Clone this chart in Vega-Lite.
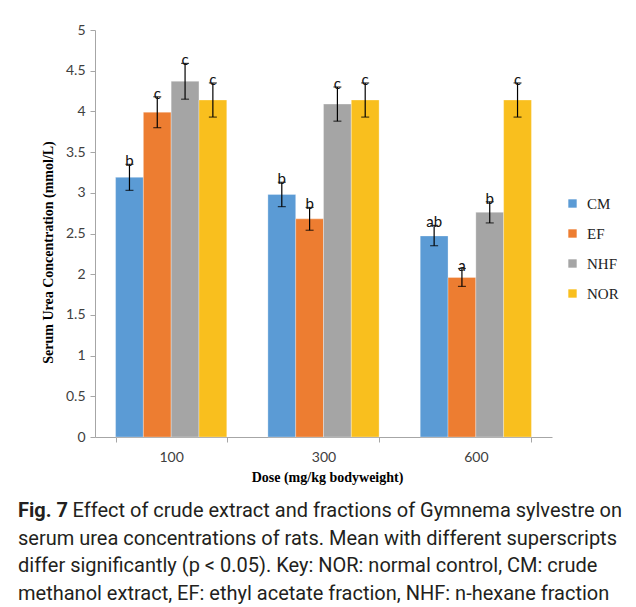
{
  "$schema": "https://vega.github.io/schema/vega-lite/v6.json",
  "width": 457,
  "height": 407,
  "autosize": "none",
  "padding": {"left": 95, "top": 30, "right": 84, "bottom": 170},
  "background": "white",
  "config": {"view": {"stroke": null}},
  "title": {
    "text": "Fig. 7",
    "subtitle": [
      "\u200b\u00a0\u00a0\u00a0\u00a0\u00a0\u00a0\u00a0\u00a0\u00a0\u00a0\u00a0Effect of crude extract and fractions of Gymnema sylvestre on",
      "serum urea concentrations of rats. Mean with different superscripts",
      "differ significantly (p < 0.05). Key: NOR: normal control, CM: crude",
      "methanol extract, EF: ethyl acetate fraction, NHF: n-hexane fraction"
    ],
    "orient": "bottom",
    "anchor": "start",
    "frame": "group",
    "dx": -77,
    "offset": 17,
    "font": "Roboto",
    "fontSize": 20,
    "fontWeight": "bold",
    "color": "#231f20",
    "subtitleFont": "Roboto",
    "subtitleFontSize": 20,
    "subtitleFontWeight": "normal",
    "subtitleColor": "#231f20",
    "subtitleLineHeight": 27.5,
    "subtitlePadding": -20
  },
  "data": {
    "values": [
      {"dose": "100", "group": "CM", "value": 3.19, "lo": 3.03, "hi": 3.35, "letter": "b"},
      {"dose": "100", "group": "EF", "value": 3.99, "lo": 3.80, "hi": 4.18, "letter": "c"},
      {"dose": "100", "group": "NHF", "value": 4.37, "lo": 4.15, "hi": 4.59, "letter": "c"},
      {"dose": "100", "group": "NOR", "value": 4.14, "lo": 3.93, "hi": 4.35, "letter": "c"},
      {"dose": "300", "group": "CM", "value": 2.98, "lo": 2.83, "hi": 3.13, "letter": "b"},
      {"dose": "300", "group": "EF", "value": 2.68, "lo": 2.54, "hi": 2.82, "letter": "b"},
      {"dose": "300", "group": "NHF", "value": 4.09, "lo": 3.88, "hi": 4.30, "letter": "c"},
      {"dose": "300", "group": "NOR", "value": 4.14, "lo": 3.93, "hi": 4.35, "letter": "c"},
      {"dose": "600", "group": "CM", "value": 2.47, "lo": 2.35, "hi": 2.60, "letter": "ab"},
      {"dose": "600", "group": "EF", "value": 1.96, "lo": 1.85, "hi": 2.07, "letter": "a"},
      {"dose": "600", "group": "NHF", "value": 2.76, "lo": 2.63, "hi": 2.89, "letter": "b"},
      {"dose": "600", "group": "NOR", "value": 4.14, "lo": 3.93, "hi": 4.35, "letter": "c"}
    ]
  },
  "encoding": {
    "x": {
      "field": "dose",
      "type": "nominal",
      "sort": ["100", "300", "600"],
      "scale": {"paddingInner": 0.27, "paddingOuter": 0.135},
      "axis": {
        "title": "Dose (mg/kg bodyweight)",
        "labelAngle": 0,
        "tickBand": "extent",
        "domainColor": "#a6a6a6",
        "tickColor": "#a6a6a6",
        "tickSize": 5,
        "labelFont": "Lato",
        "labelFontSize": 14,
        "labelColor": "#404040",
        "labelPadding": 8,
        "titleFont": "Liberation Serif",
        "titleFontSize": 14,
        "titleFontWeight": "bold",
        "titleColor": "black",
        "titlePadding": 6,
        "titleX": 232
      }
    },
    "xOffset": {
      "field": "group",
      "type": "nominal",
      "sort": ["CM", "EF", "NHF", "NOR"],
      "scale": {"paddingInner": 0, "paddingOuter": 0}
    }
  },
  "layer": [
    {
      "mark": {"type": "bar", "stroke": "white", "strokeWidth": 0.5, "strokeOpacity": 0.6},
      "encoding": {
        "y": {
          "field": "value",
          "type": "quantitative",
          "scale": {"domain": [0, 5], "nice": false},
          "axis": {
            "title": "Serum Urea Concentration (mmol/L)",
            "values": [0, 0.5, 1, 1.5, 2, 2.5, 3, 3.5, 4, 4.5, 5],
            "format": "~g",
            "grid": false,
            "domainColor": "#a6a6a6",
            "tickColor": "#a6a6a6",
            "tickSize": 5,
            "labelFont": "Lato",
            "labelFontSize": 14,
            "labelColor": "#404040",
            "labelPadding": 5,
            "titleFont": "Liberation Serif",
            "titleFontSize": 14,
            "titleFontWeight": "bold",
            "titleColor": "black",
            "titlePadding": 10,
            "titleY": 222
          }
        },
        "color": {
          "field": "group",
          "type": "nominal",
          "sort": ["CM", "EF", "NHF", "NOR"],
          "scale": {"domain": ["CM", "EF", "NHF", "NOR"], "range": ["#5b9bd5", "#ed7d31", "#a5a5a5", "#f9bf1e"]},
          "legend": {
            "title": null,
            "orient": "none",
            "legendX": 470,
            "legendY": 166,
            "symbolType": "square",
            "symbolSize": 70,
            "symbolStrokeWidth": 0,
            "labelFont": "Liberation Serif",
            "labelFontSize": 15,
            "labelColor": "#222222",
            "labelOffset": 7,
            "rowPadding": 14
          }
        }
      }
    },
    {
      "mark": {"type": "rule", "color": "black", "strokeWidth": 1.2},
      "encoding": {
        "y": {"field": "lo", "type": "quantitative"},
        "y2": {"field": "hi"}
      }
    },
    {
      "mark": {"type": "tick", "color": "black", "size": 8, "thickness": 1.2},
      "encoding": {"y": {"field": "lo", "type": "quantitative"}}
    },
    {
      "mark": {"type": "tick", "color": "black", "size": 8, "thickness": 1.2},
      "encoding": {"y": {"field": "hi", "type": "quantitative"}}
    },
    {
      "mark": {"type": "text", "baseline": "middle", "dy": -3, "font": "Lato", "fontSize": 15, "color": "#111111"},
      "encoding": {
        "y": {"field": "hi", "type": "quantitative"},
        "text": {"field": "letter"}
      }
    }
  ]
}
